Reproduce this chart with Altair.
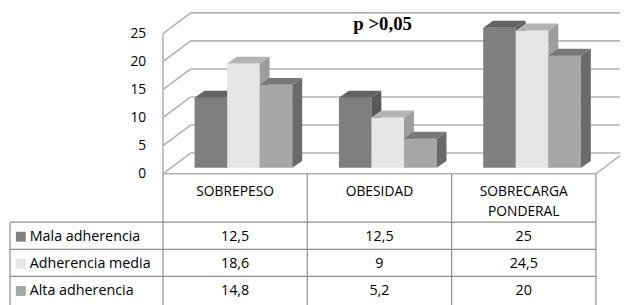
import altair as alt
import pandas as pd

# ---------------- data ----------------
categories = ["SOBREPESO", "OBESIDAD", "SOBRECARGA PONDERAL"]
series = ["Mala adherencia", "Adherencia media", "Alta adherencia"]
mala = [12.5, 12.5, 25]
media = [18.6, 9, 24.5]
alta = [14.8, 5.2, 20]
y_ticks = [0, 5, 10, 15, 20, 25]
note_text = "p >0,05"

values = [mala, media, alta]
front_colors = ["#7f7f7f", "#e6e6e6", "#a6a6a6"]
top_colors = ["#636363", "#b4b4b4", "#777777"]
side_colors = ["#595959", "#9d9d9d", "#6a6a6a"]

# ---------------- layout (page pixels -> scale units) ----------------
W, H = 620, 297
COL0, COLW = 165.0, 146.2      # first table column left edge, column width
FLOOR, PPU = 174.0, 5.68       # front floor line, pixels per value unit


def ux(px):
    return (px - COL0) / COLW


def vy(py):
    return (FLOOR - py) / PPU


XDOM = [ux(8), ux(628)]
YDOM = [vy(305), vy(8)]
DXW, DYW = 28 / COLW, 21 / PPU          # wall depth
BOFF, BW = 0.219, 33 / COLW             # bar offset / width inside a column
DXB, DYB = 10 / COLW, 7 / PPU           # bar depth
BASE = 6 / PPU                          # bar base above the front floor line

xs = alt.Scale(domain=XDOM, nice=False, zero=False)
ys = alt.Scale(domain=YDOM, nice=False, zero=False)


def X(f):
    return alt.X(f, type="quantitative", scale=xs, axis=None)


def Y(f):
    return alt.Y(f, type="quantitative", scale=ys, axis=None, stack=None)


FONT = "Open Sans"

# ---------------- walls / grid ----------------
grid_rows = []
for t in y_ticks:
    grid_rows.append(dict(x=0, x2=DXW, y=t, y2=t + DYW))
    grid_rows.append(dict(x=DXW, x2=XDOM[1], y=t + DYW, y2=t + DYW))
grid_rows.append(dict(x=0, x2=0, y=0, y2=y_ticks[-1]))
grid_rows.append(dict(x=0, x2=3, y=0, y2=0))
grid_rows.append(dict(x=3, x2=3 + DXW, y=0, y2=DYW))
grid_df = pd.DataFrame(grid_rows)

grid = alt.Chart(grid_df).mark_rule(color="#b3b3b3", strokeWidth=1.6).encode(
    x=X("x"), x2="x2", y=Y("y"), y2="y2"
)

layers = [grid]

# ---------------- 3D bars ----------------
for j, s in enumerate(series):
    fr = []
    for i, c in enumerate(categories):
        v = values[j][i]
        x0 = i + BOFF + j * BW
        x1 = x0 + BW
        top = BASE + v
        fr.append(dict(cat=c, x=x0, x2=x1, y=BASE, y2=top))
        tp = pd.DataFrame(dict(
            x=[x0, x0 + DXB, x1, x1 + DXB],
            y=[top, top + DYB, top + DYB, top + DYB],
            y2=[top, top, top, top + DYB],
        ))
        sd = pd.DataFrame(dict(
            x=[x1, x1 + DXB],
            y=[top, top + DYB],
            y2=[BASE, BASE + DYB],
        ))
        fr_df = pd.DataFrame([fr[-1]])
        layers.append(
            alt.Chart(fr_df).mark_rect(color=front_colors[j]).encode(
                x=X("x"), x2="x2", y=Y("y"), y2="y2"
            )
        )
        layers.append(
            alt.Chart(tp).mark_area(color=top_colors[j], opacity=1,
                                    interpolate="linear", orient="vertical").encode(
                x=X("x"), y=Y("y"), y2="y2"
            )
        )
        layers.append(
            alt.Chart(sd).mark_area(color=side_colors[j], opacity=1,
                                    interpolate="linear", orient="vertical").encode(
                x=X("x"), y=Y("y"), y2="y2"
            )
        )

# ---------------- y labels ----------------
ylab_df = pd.DataFrame(dict(x=[ux(148)] * len(y_ticks), y=y_ticks,
                            t=[str(t) for t in y_ticks]))
layers.append(
    alt.Chart(ylab_df).mark_text(align="right", baseline="middle", font=FONT,
                                 fontSize=14, color="#000000").encode(
        x=X("x"), y=Y("y"), text="t:N"
    )
)

# ---------------- note ----------------
note_df = pd.DataFrame(dict(x=[ux(387.5)], y=[vy(28)], t=[note_text]))
layers.append(
    alt.Chart(note_df).mark_text(align="center", baseline="alphabetic",
                                 font="Liberation Serif", fontWeight="bold",
                                 fontSize=19, color="#000000").encode(
        x=X("x"), y=Y("y"), text="t:N"
    )
)

# ---------------- data table ----------------
ROW_TOP, ROW_H = 223.0, 27.5
tab_rows = []
for k in range(3):
    tab_rows.append(dict(x=ux(10), x2=3, y=vy(ROW_TOP + k * ROW_H), y2=vy(ROW_TOP + k * ROW_H)))
tab_rows.append(dict(x=ux(10), x2=ux(10), y=vy(ROW_TOP), y2=vy(312)))
for i in range(4):
    tab_rows.append(dict(x=i, x2=i, y=0, y2=vy(312)))
tab_df = pd.DataFrame(tab_rows)
layers.append(
    alt.Chart(tab_df).mark_rule(color="#8f8f8f", strokeWidth=1.2).encode(
        x=X("x"), x2="x2", y=Y("y"), y2="y2"
    )
)

# header
head_rows = []
for i, c in enumerate(categories):
    for li, part in enumerate(c.split(" ")):
        head_rows.append(dict(x=i + 0.5, y=vy(193 + 20 * li), t=part))
layers.append(
    alt.Chart(pd.DataFrame(head_rows)).mark_text(
        align="center", baseline="middle", font=FONT, fontSize=14, color="#000000"
    ).encode(x=X("x"), y=Y("y"), text="t:N")
)

# row labels, swatches and values
lab_rows, sw_rows, val_rows = [], [], []
for j, s in enumerate(series):
    cy = vy(ROW_TOP + j * ROW_H + ROW_H / 2 + 1)
    lab_rows.append(dict(x=ux(30), y=cy, t=s))
    sw_rows.append(dict(x=ux(21), y=cy, c=front_colors[j]))
    for i in range(len(categories)):
        val_rows.append(dict(x=i + 0.5, y=cy,
                             t=f"{values[j][i]:g}".replace(".", ",")))

layers.append(
    alt.Chart(pd.DataFrame(sw_rows)).mark_square(size=100, opacity=1).encode(
        x=X("x"), y=Y("y"), color=alt.Color("c:N", scale=None, legend=None)
    )
)
layers.append(
    alt.Chart(pd.DataFrame(lab_rows)).mark_text(
        align="left", baseline="middle", font=FONT, fontSize=14.5, color="#000000"
    ).encode(x=X("x"), y=Y("y"), text="t:N")
)
layers.append(
    alt.Chart(pd.DataFrame(val_rows)).mark_text(
        align="center", baseline="middle", font=FONT, fontSize=14.5, color="#000000"
    ).encode(x=X("x"), y=Y("y"), text="t:N")
)

chart = alt.layer(*layers).properties(
    width=W, height=H,
    autosize=alt.AutoSizeParams(type="none"),
    padding=0,
    background="#ffffff",
).configure_view(stroke=None)

chart.save("out.html", embed_options={"renderer": "svg", "actions": False})
